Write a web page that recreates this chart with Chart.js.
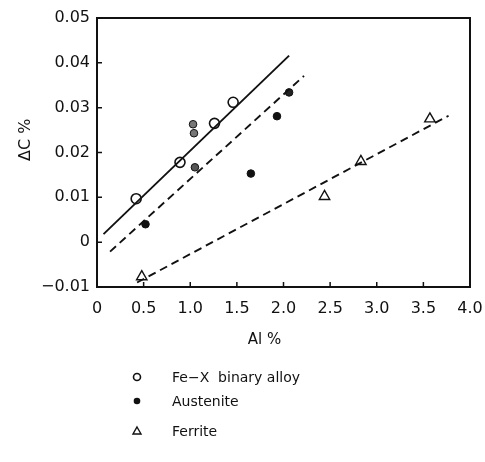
<!DOCTYPE html>
<html>
<head>
<meta charset="utf-8">
<script src="https://cdn.jsdelivr.net/npm/chart.js@4.4.1/dist/chart.umd.min.js"></script>
<style>
  body { margin: 0; background: #fff; }
  #wrap { position: relative; width: 485px; height: 462px; }
  .item { position: absolute; left: 130px; font-family: "DejaVu Sans", sans-serif; font-size: 14px; color: #111; display: flex; align-items: center; }
  .item svg { width: 14px; height: 14px; margin-right: 28px; }
</style>
</head>
<body>
<div id="wrap">
  <canvas id="chart" width="485" height="462"></canvas>
  <div class="item" style="top:369px">
    <svg viewBox="0 0 14 14"><circle cx="7" cy="7" r="3.5" fill="#fff" stroke="#111" stroke-width="1.6"/></svg>Fe−X&nbsp; binary alloy
  </div>
  <div class="item" style="top:393px">
    <svg viewBox="0 0 14 14"><circle cx="7" cy="7" r="3.3" fill="#111"/></svg>Austenite
  </div>
  <div class="item" style="top:423px">
    <svg viewBox="0 0 14 14"><polygon points="7,3 11,10 3,10" fill="#fff" stroke="#111" stroke-width="1.4"/></svg>Ferrite
  </div>
</div>
<script>
// values
const binaryX = [0.42, 0.89, 1.26, 1.46];
const binaryY = [0.0097, 0.0178, 0.0265, 0.0312];
const austX = [0.52, 1.03, 1.04, 1.05, 1.65, 1.93, 2.06];
const austY = [0.0040, 0.0263, 0.0243, 0.0167, 0.0153, 0.0281, 0.0334];
const austFill = ['#111', '#777', '#777', '#555', '#111', '#111', '#222'];
const ferrX = [0.48, 2.44, 2.83, 3.57];
const ferrY = [-0.0077, 0.0102, 0.0180, 0.0275];

// fitted lines (end points)
const binaryFitX = [0.07, 2.06];
const binaryFitY = [0.0018, 0.0416];
const austFitX = [0.14, 2.22];
const austFitY = [-0.0021, 0.0371];
const ferrFitX = [0.43, 3.77];
const ferrFitY = [-0.0090, 0.0282];

const xTicks = [0, 0.5, 1.0, 1.5, 2.0, 2.5, 3.0, 3.5, 4.0];
const yTicks = [-0.01, 0, 0.01, 0.02, 0.03, 0.04, 0.05];

const pts = (xs, ys) => xs.map((x, i) => ({ x: x, y: ys[i] }));

const frame = {
  id: 'frame',
  afterDraw(chart) {
    const { ctx, chartArea: a, scales } = chart;
    ctx.save();
    ctx.strokeStyle = '#111';
    ctx.lineWidth = 2;
    ctx.strokeRect(a.left, a.top, a.right - a.left, a.bottom - a.top);
    ctx.lineWidth = 1.5;
    ctx.beginPath();
    xTicks.forEach(v => {
      const px = scales.x.getPixelForValue(v);
      ctx.moveTo(px, a.bottom);
      ctx.lineTo(px, a.bottom - 5);
    });
    yTicks.forEach(v => {
      const py = scales.y.getPixelForValue(v);
      ctx.moveTo(a.left, py);
      ctx.lineTo(a.left + 5, py);
    });
    ctx.stroke();
    ctx.restore();
  }
};

const font = { family: '"DejaVu Sans", sans-serif', size: 16 };

new Chart(document.getElementById('chart'), {
  type: 'scatter',
  data: {
    datasets: [
      { data: pts(binaryFitX, binaryFitY), showLine: true, borderColor: '#111', borderWidth: 1.9, pointRadius: 0 },
      { data: pts(austFitX, austFitY), showLine: true, borderColor: '#111', borderWidth: 1.9, borderDash: [8, 5], pointRadius: 0 },
      { data: pts(ferrFitX, ferrFitY), showLine: true, borderColor: '#111', borderWidth: 1.9, borderDash: [8, 5], pointRadius: 0 },
      { label: 'Fe−X binary alloy', data: pts(binaryX, binaryY), pointRadius: 5, pointBackgroundColor: '#fff', pointBorderColor: '#111', pointBorderWidth: 1.6 },
      { label: 'Austenite', data: pts(austX, austY), pointRadius: 3.8, pointBackgroundColor: austFill, pointBorderColor: '#111', pointBorderWidth: 1 },
      { label: 'Ferrite', data: pts(ferrX, ferrY), pointStyle: 'triangle', pointRadius: 6, pointBackgroundColor: '#fff', pointBorderColor: '#111', pointBorderWidth: 1.4 }
    ]
  },
  options: {
    responsive: false,
    animation: false,
    layout: { padding: { left: 0, right: 15, top: 18, bottom: 113 } },
    plugins: { legend: { display: false }, tooltip: { enabled: false } },
    scales: {
      x: {
        type: 'linear', min: 0, max: 4,
        afterBuildTicks: s => { s.ticks = xTicks.map(v => ({ value: v })); },
        afterFit: s => { s.height = 62; s.paddingRight = 0; s.paddingLeft = 0; },
        grid: { display: false, drawTicks: false },
        border: { display: false },
        ticks: { color: '#111', font: font, padding: 12, maxRotation: 0,
          callback: v => v === 0 ? '0' : v.toFixed(1) },
        title: { display: true, text: 'Al %        ', color: '#111', font: { family: font.family, size: 15 }, padding: { top: 14, bottom: 0 } }
      },
      y: {
        type: 'linear', min: -0.01, max: 0.05,
        afterBuildTicks: s => { s.ticks = yTicks.map(v => ({ value: v })); },
        afterFit: s => { s.width = 97; },
        grid: { display: false, drawTicks: false },
        border: { display: false },
        ticks: { color: '#111', font: font, padding: 7,
          callback: v => Math.abs(v) < 1e-9 ? '0' : (v < 0 ? '−' : '') + Math.abs(v).toFixed(2) },
        title: { display: true, text: '     ΔC %', color: '#111', font: { family: font.family, size: 16 }, padding: { top: 16, bottom: 0 } }
      }
    }
  },
  plugins: [frame]
});
</script>
</body>
</html>
